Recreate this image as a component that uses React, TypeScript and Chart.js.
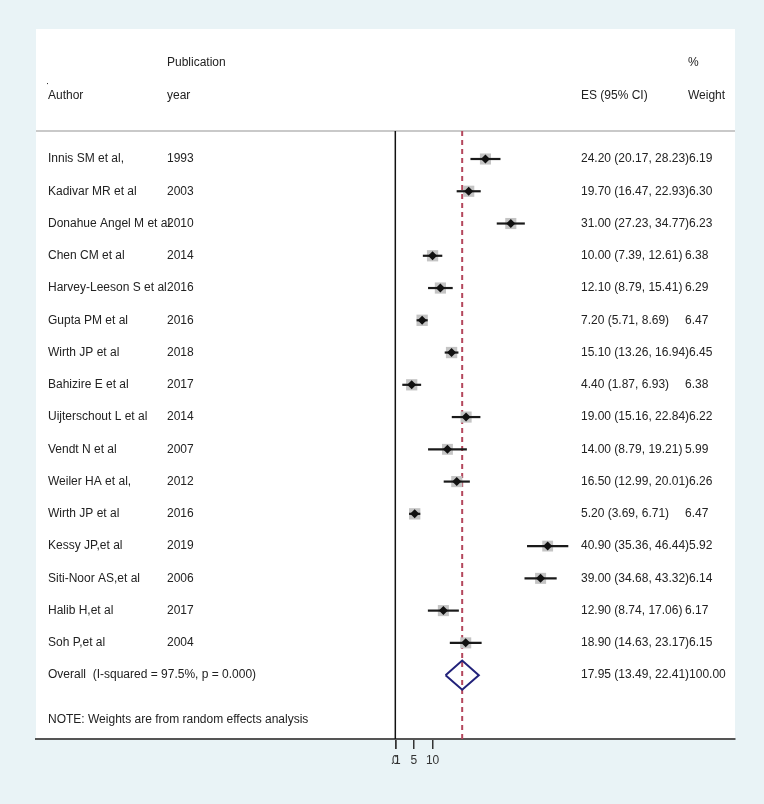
import React, { useEffect, useRef } from 'react';
import { Chart, registerables } from 'chart.js';

Chart.register(...registerables);

// ---------- data ----------
const authors = [
  'Innis SM et al,',
  'Kadivar MR et al',
  'Donahue Angel M et al',
  'Chen CM et al',
  'Harvey-Leeson S et al',
  'Gupta PM et al',
  'Wirth JP et al',
  'Bahizire E et al',
  'Uijterschout L et al',
  'Vendt N et al',
  'Weiler HA et al,',
  'Wirth JP et al',
  'Kessy JP,et al',
  'Siti-Noor AS,et al',
  'Halib H,et al',
  'Soh P,et al',
];
const years = ['1993', '2003', '2010', '2014', '2016', '2016', '2018', '2017', '2014', '2007', '2012', '2016', '2019', '2006', '2017', '2004'];
const effectSizes = [24.2, 19.7, 31.0, 10.0, 12.1, 7.2, 15.1, 4.4, 19.0, 14.0, 16.5, 5.2, 40.9, 39.0, 12.9, 18.9];
const ciLower = [20.17, 16.47, 27.23, 7.39, 8.79, 5.71, 13.26, 1.87, 15.16, 8.79, 12.99, 3.69, 35.36, 34.68, 8.74, 14.63];
const ciUpper = [28.23, 22.93, 34.77, 12.61, 15.41, 8.69, 16.94, 6.93, 22.84, 19.21, 20.01, 6.71, 46.44, 43.32, 17.06, 23.17];
const weights = [6.19, 6.3, 6.23, 6.38, 6.29, 6.47, 6.45, 6.38, 6.22, 5.99, 6.26, 6.47, 5.92, 6.14, 6.17, 6.15];

const overallLabel = 'Overall  (I-squared = 97.5%, p = 0.000)';
const overallES = 17.95;
const overallLower = 13.49;
const overallUpper = 22.41;
const overallWeight = '100.00';
const noteText = 'NOTE: Weights are from random effects analysis';

const tickValues = [0, 0.1, 5, 10];
const tickLabels = ['0', '.1', '5', '10'];

// ---------- layout constants (scale units) ----------
const X_MIN = -96.46;
const X_MAX = 91.19;
const Y_MIN = -4.03;
const Y_MAX = 17.98;
const HEADER_TOP_Y = -3.0;
const HEADER_Y = -1.95;
const SEPARATOR_Y = -0.87;
const OVERALL_Y = authors.length;
const NOTE_Y = 17.39;
const DIAMOND_HALF = 0.45;

const FONT = '12px "Liberation Sans", Arial, Helvetica, sans-serif';
const TEXT_COLOR = '#222222';

const rows = authors.map((_, i) => i);

const textPlugin = {
  id: 'forestText',
  beforeDraw(chart: any) {
    const { ctx, chartArea } = chart;
    ctx.save();
    ctx.fillStyle = '#ffffff';
    ctx.fillRect(chartArea.left, chartArea.top, chartArea.right - chartArea.left, chartArea.bottom - chartArea.top);
    ctx.restore();
  },
  afterDraw(chart: any) {
    const { ctx } = chart;
    const y = chart.scales.y;
    ctx.save();
    ctx.font = FONT;
    ctx.fillStyle = TEXT_COLOR;
    ctx.textBaseline = 'middle';
    ctx.textAlign = 'left';
    const xAuthor = 48;
    const xYear = 167;
    const xES = 581;
    const xWeight = 685;
    // headers
    ctx.fillText('Publication', xYear, y.getPixelForValue(HEADER_TOP_Y));
    ctx.fillText('%', 688, y.getPixelForValue(HEADER_TOP_Y));
    ctx.fillText('Author', xAuthor, y.getPixelForValue(HEADER_Y));
    ctx.fillText('year', xYear, y.getPixelForValue(HEADER_Y));
    ctx.fillText('ES (95% CI)', xES, y.getPixelForValue(HEADER_Y));
    ctx.fillText('Weight', 688, y.getPixelForValue(HEADER_Y));
    ctx.fillRect(47, y.getPixelForValue(HEADER_Y) - 13, 1, 1);
    // rows
    rows.forEach((i) => {
      const py = y.getPixelForValue(i);
      ctx.fillText(authors[i], xAuthor, py);
      ctx.fillText(years[i], xYear, py);
      const es = `${effectSizes[i].toFixed(2)} (${ciLower[i].toFixed(2)}, ${ciUpper[i].toFixed(2)})`;
      ctx.fillText(es, xES, py);
      const w = ctx.measureText(es).width;
      ctx.fillText(weights[i].toFixed(2), Math.max(xWeight, xES + w), py);
    });
    const po = y.getPixelForValue(OVERALL_Y);
    ctx.fillText(overallLabel, xAuthor, po);
    const oes = `${overallES.toFixed(2)} (${overallLower.toFixed(2)}, ${overallUpper.toFixed(2)})`;
    ctx.fillText(oes, xES, po);
    ctx.fillText(overallWeight, Math.max(xWeight, xES + ctx.measureText(oes).width), po);
    ctx.fillText(noteText, xAuthor, y.getPixelForValue(NOTE_Y));
    ctx.restore();
  },
};

export default function App() {
  const canvasRef = useRef<HTMLCanvasElement | null>(null);

  useEffect(() => {
    if (!canvasRef.current) return;

    const ciDatasets = rows.map((i) => ({
      label: `ci-${i}`,
      data: [
        { x: ciLower[i], y: i },
        { x: ciUpper[i], y: i },
      ],
      showLine: true,
      borderColor: '#1a1a1a',
      borderWidth: 2.2,
      pointRadius: 0,
      order: 2,
    }));

    const chart = new Chart(canvasRef.current, {
      type: 'scatter',
      data: {
        datasets: [
          {
            label: 'points',
            data: rows.map((i) => ({ x: effectSizes[i], y: i })),
            pointStyle: 'rectRot',
            pointRadius: 4.5,
            backgroundColor: '#111111',
            borderColor: '#111111',
            borderWidth: 0,
            showLine: false,
            order: 1,
          },
          ...ciDatasets,
          {
            label: 'boxes',
            data: rows.map((i) => ({ x: effectSizes[i], y: i })),
            pointStyle: 'rect',
            pointRadius: rows.map((i) => 3.15 * Math.sqrt(weights[i])),
            backgroundColor: '#c4c4c4',
            borderColor: '#c4c4c4',
            borderWidth: 0,
            showLine: false,
            order: 3,
          },
          {
            label: 'overall',
            data: [
              { x: overallLower, y: OVERALL_Y },
              { x: overallES, y: OVERALL_Y - DIAMOND_HALF },
              { x: overallUpper, y: OVERALL_Y },
              { x: overallES, y: OVERALL_Y + DIAMOND_HALF },
              { x: overallLower, y: OVERALL_Y },
            ],
            showLine: true,
            borderColor: '#22227a',
            borderWidth: 2,
            pointRadius: 0,
            order: 0,
          },
          {
            label: 'overall-line',
            data: [
              { x: overallES, y: SEPARATOR_Y },
              { x: overallES, y: Y_MAX },
            ],
            showLine: true,
            borderColor: '#b4475c',
            borderWidth: 2,
            borderDash: [5, 4],
            pointRadius: 0,
            order: 4,
          },
          {
            label: 'null-line',
            data: [
              { x: 0, y: SEPARATOR_Y },
              { x: 0, y: Y_MAX },
            ],
            showLine: true,
            borderColor: '#111111',
            borderWidth: 1.5,
            pointRadius: 0,
            order: 5,
          },
          {
            label: 'separator',
            data: [
              { x: X_MIN, y: SEPARATOR_Y },
              { x: X_MAX, y: SEPARATOR_Y },
            ],
            showLine: true,
            borderColor: '#c9c9c9',
            borderWidth: 2,
            pointRadius: 0,
            order: 6,
          },
        ],
      },
      options: {
        responsive: false,
        animation: false,
        events: [],
        layout: { padding: { left: 36, right: 29, top: 29, bottom: 0 } },
        plugins: {
          legend: { display: false },
          tooltip: { enabled: false },
          title: { display: false },
        },
        scales: {
          x: {
            type: 'linear',
            min: X_MIN,
            max: X_MAX,
            afterBuildTicks: (scale: any) => {
              scale.ticks = tickValues.map((v) => ({ value: v }));
            },
            afterFit: (scale: any) => {
              scale.height = 65;
            },
            ticks: {
              autoSkip: false,
              maxRotation: 0,
              minRotation: 0,
              padding: 4,
              color: '#333333',
              font: { family: '"Liberation Sans", Arial, Helvetica, sans-serif', size: 12 },
              callback: (_value: any, index: number) => tickLabels[index],
            },
            grid: {
              display: true,
              drawOnChartArea: false,
              drawTicks: true,
              tickLength: 10,
              color: '#333333',
              lineWidth: 1.5,
            },
            border: { display: true, color: '#555555', width: 2 },
          },
          y: {
            type: 'linear',
            display: false,
            reverse: true,
            min: Y_MIN,
            max: Y_MAX,
          },
        },
      },
      plugins: [textPlugin],
    } as any);

    return () => {
      chart.destroy();
    };
  }, []);

  return (
    <div style={{ position: 'absolute', left: 0, top: 0, width: 764, height: 804, background: '#e9f3f6' }}>
      <canvas ref={canvasRef} width={764} height={804} style={{ display: 'block', width: 764, height: 804 }} />
    </div>
  );
}
